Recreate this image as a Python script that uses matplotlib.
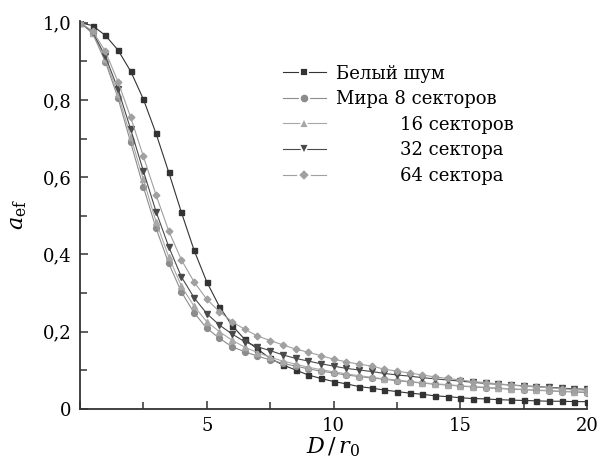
import numpy as np
import matplotlib
matplotlib.use("Agg")
import matplotlib.pyplot as plt
import matplotlib.transforms as mtransforms
from matplotlib.ticker import MultipleLocator, FuncFormatter

plt.rcParams['font.family'] = ['DejaVu Serif']
plt.rcParams['mathtext.fontset'] = 'dejavuserif'

# D / r0 sampled every 0.5
d_r0 = np.arange(0, 20.01, 0.5)

white_noise = [1.000, 0.992, 0.967, 0.929, 0.874, 0.802, 0.713, 0.613, 0.509, 0.411,
               0.329, 0.265, 0.216, 0.180, 0.155, 0.131, 0.114, 0.101, 0.088, 0.079,
               0.071, 0.065, 0.058, 0.054, 0.049, 0.045, 0.041, 0.038, 0.034, 0.032,
               0.029, 0.027, 0.026, 0.024, 0.023, 0.022, 0.021, 0.020, 0.020, 0.019, 0.019]
mira_8 = [1.000, 0.972, 0.899, 0.805, 0.690, 0.575, 0.468, 0.377, 0.303, 0.249,
          0.209, 0.183, 0.161, 0.148, 0.137, 0.127, 0.118, 0.111, 0.104, 0.098,
          0.093, 0.088, 0.084, 0.080, 0.077, 0.073, 0.070, 0.067, 0.064, 0.062,
          0.059, 0.057, 0.055, 0.053, 0.051, 0.050, 0.048, 0.047, 0.045, 0.044, 0.042]
mira_16 = [1.000, 0.974, 0.905, 0.815, 0.705, 0.594, 0.485, 0.394, 0.318, 0.266,
           0.226, 0.200, 0.178, 0.160, 0.146, 0.134, 0.124, 0.116, 0.108, 0.102,
           0.096, 0.091, 0.086, 0.082, 0.078, 0.075, 0.071, 0.068, 0.065, 0.063,
           0.060, 0.058, 0.056, 0.054, 0.052, 0.051, 0.049, 0.048, 0.046, 0.045, 0.044]
mira_32 = [1.000, 0.976, 0.913, 0.828, 0.724, 0.616, 0.511, 0.420, 0.342, 0.288,
           0.247, 0.217, 0.194, 0.174, 0.161, 0.151, 0.140, 0.131, 0.124, 0.117,
           0.111, 0.105, 0.101, 0.097, 0.092, 0.088, 0.085, 0.081, 0.078, 0.075,
           0.072, 0.069, 0.066, 0.064, 0.062, 0.060, 0.058, 0.056, 0.054, 0.052, 0.051]
mira_64 = [1.000, 0.978, 0.926, 0.847, 0.755, 0.654, 0.554, 0.461, 0.386, 0.329,
           0.284, 0.252, 0.226, 0.206, 0.189, 0.177, 0.166, 0.155, 0.147, 0.138,
           0.129, 0.122, 0.116, 0.111, 0.103, 0.098, 0.093, 0.088, 0.083, 0.079,
           0.075, 0.071, 0.068, 0.065, 0.062, 0.059, 0.057, 0.055, 0.052, 0.050, 0.048]

labels = ["Белый шум", "Мира 8 секторов", "16 секторов", "32 сектора", "64 сектора"]

fig = plt.figure(figsize=(6.01, 4.59), dpi=100)
ax = fig.add_axes([0.133, 0.109, 0.844, 0.846])

styles = [
    dict(color='#333333', marker='s', ms=3.6),
    dict(color='#8c8c8c', marker='o', ms=4.2),
    dict(color='#a8a8a8', marker='^', ms=4.2),
    dict(color='#4a4a4a', marker='v', ms=4.2),
    dict(color='#a0a0a0', marker='D', ms=3.4),
]
series = [white_noise, mira_8, mira_16, mira_32, mira_64]
for vals, lab, st in zip(series, labels, styles):
    ax.plot(d_r0, vals, lw=0.8, label=lab, **st)

ax.set_xlim(0, 20)
ax.set_ylim(0, 1.005)
ax.spines['top'].set_visible(False)
ax.spines['right'].set_visible(False)
for s in ('left', 'bottom'):
    ax.spines[s].set_linewidth(1.3)
    ax.spines[s].set_color('#333333')

ax.xaxis.set_major_locator(MultipleLocator(5))
ax.xaxis.set_minor_locator(MultipleLocator(2.5))
ax.yaxis.set_major_locator(MultipleLocator(0.2))
ax.yaxis.set_minor_locator(MultipleLocator(0.1))
ax.xaxis.set_major_formatter(FuncFormatter(lambda v, p: '' if v == 0 else f'{v:g}'))
ax.yaxis.set_major_formatter(FuncFormatter(lambda v, p: '0' if v == 0 else f'{v:.1f}'.replace('.', ',')))
ax.tick_params(which='both', direction='in', color='#333333', width=1.1, labelsize=13)
ax.tick_params(which='major', length=6, pad=6)
ax.tick_params(which='minor', length=5)

ax.set_xlabel(r'$D\,/\,r_0$', fontsize=16, labelpad=0)
ax.set_ylabel(r'$a_{\mathrm{ef}}$', fontsize=16, labelpad=10)

leg = ax.legend(loc='upper left', bbox_to_anchor=(0.40, 0.887), frameon=False,
                fontsize=13, handlelength=2.4, handletextpad=0.55,
                labelspacing=0.42, borderpad=0, borderaxespad=0)
# small gap between line and marker in the legend keys
for h in leg.legend_handles:
    h.set_markersize(h.get_markersize() + 2.6)
    h.set_markeredgecolor('white')
    h.set_markeredgewidth(1.3)

# indent the last three labels so they line up with "8 секторов"
renderer = fig.canvas.get_renderer()
t1 = ax.text(0, 0, "Мира 8", fontsize=13)
t2 = ax.text(0, 0, "8", fontsize=13)
shift = t1.get_window_extent(renderer).width - t2.get_window_extent(renderer).width + 6
t1.remove()
t2.remove()
for txt in leg.get_texts()[2:]:
    txt.set_transform(txt.get_transform() + mtransforms.Affine2D().translate(shift, 0))

fig.savefig('out.png', dpi=100)
